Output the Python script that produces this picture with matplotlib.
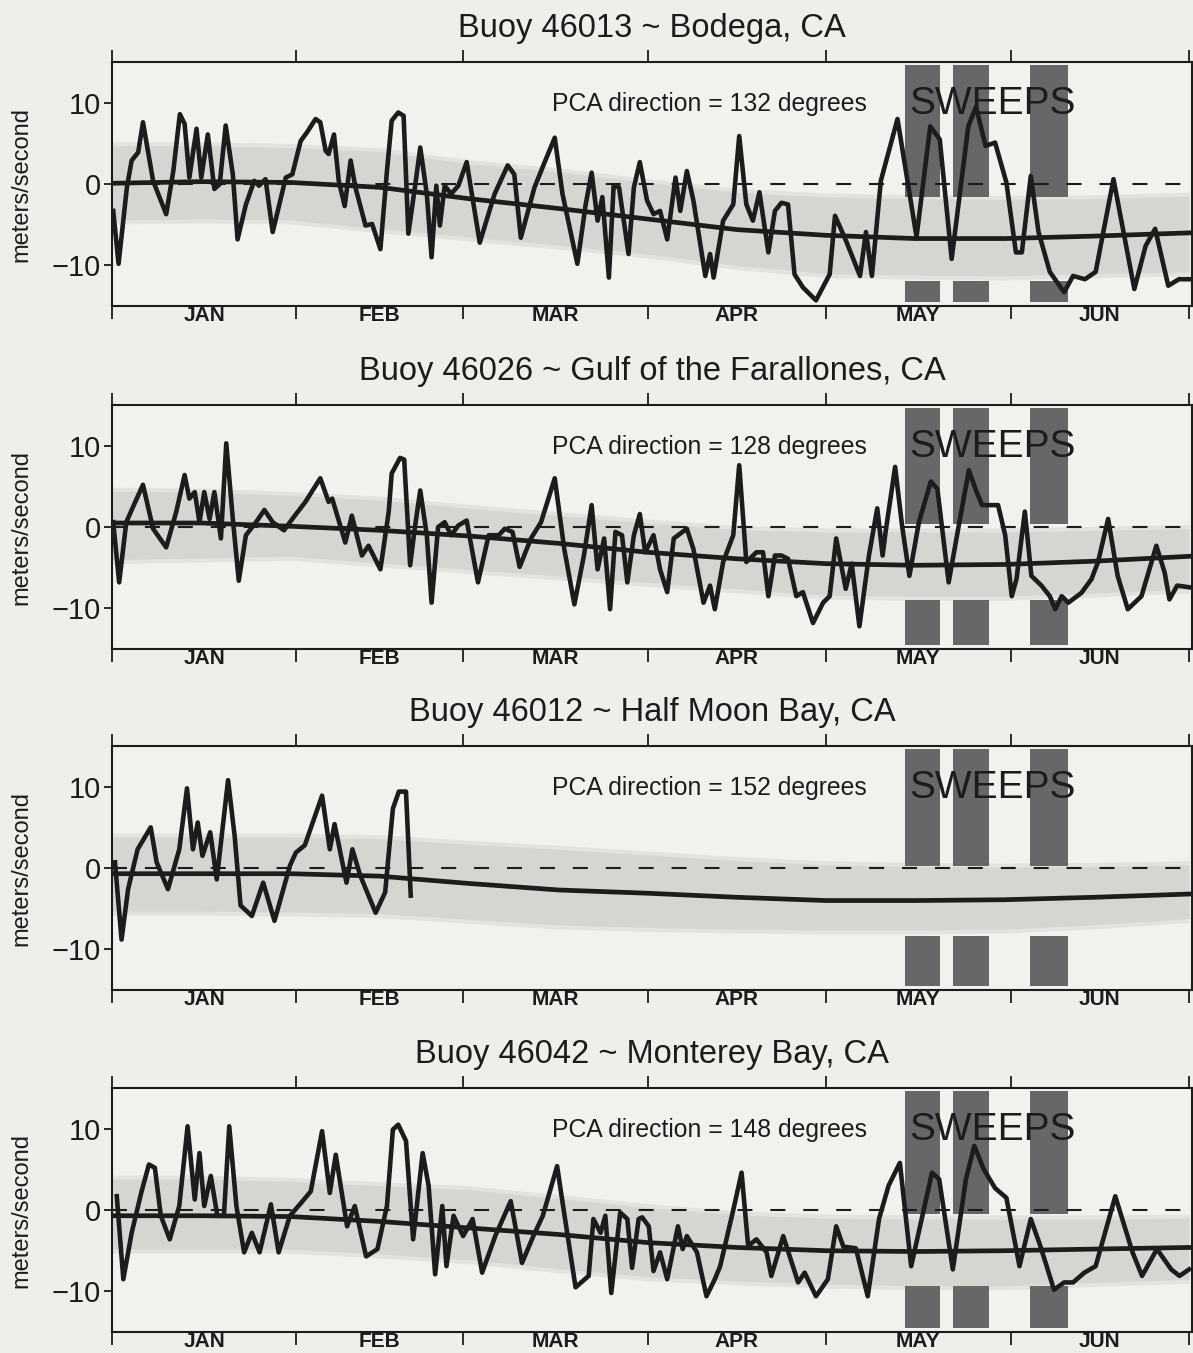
"""
Buoy wind records, Jan-Jun, four NDBC buoys off central California.

Along-shore wind (PCA direction) with the seasonal mean, its spread band
and the SWEEPS cruise periods.
"""
import matplotlib
matplotlib.use("agg")  # noqa: E402
import matplotlib.pyplot as plt

plt.rcParams['font.family'] = ['Liberation Sans', 'DejaVu Sans']

# ---- data (x = day of year, 0 = Jan 1) ----

TITLES = [
    "Buoy 46013 ~ Bodega, CA",
    "Buoy 46026 ~ Gulf of the Farallones, CA",
    "Buoy 46012 ~ Half Moon Bay, CA",
    "Buoy 46042 ~ Monterey Bay, CA",
]
PCA_DEGREES = [132, 128, 152, 148]

MONTHS = ["JAN", "FEB", "MAR", "APR", "MAY", "JUN"]
MONTH_EDGES = [0, 31, 59, 90, 120, 151, 181]

# SWEEPS periods (days)
SWEEP_START = [133.3, 141.3, 154.2]
SWEEP_END = [139.2, 147.4, 160.6]
# top block runs from SWEEP_TOP down to the per-panel value,
# bottom block from SWEEP_BOTTOM up to the per-panel value
SWEEP_TOP = 14.6
SWEEP_TOP_LOW = [-1.6, 0.4, 0.2, -0.5]
SWEEP_BOTTOM = -14.5
SWEEP_BOTTOM_HIGH = [-11.9, -9.0, -8.3, -9.4]

# seasonal mean and spread band
MEAN_DAYS = [0, 15, 30, 45, 60, 75, 90, 105, 120, 135, 150, 165, 181]
MEAN_46013 = [0.1, 0.3, 0.2, -0.4, -1.8, -3.0, -4.3, -5.6, -6.3, -6.7,
              -6.7, -6.4, -6.0]
UPPER_46013 = [4.7, 4.7, 4.5, 4.0, 2.5, 1.5, 0.2, -1.0, -1.6, -1.8, -1.9,
               -1.8, -1.5]
LOWER_46013 = [-4.4, -4.3, -4.4, -5.5, -6.5, -7.5, -8.6, -10.0, -11.0,
               -11.2, -11.3, -11.0, -10.8]

MEAN_46026 = [0.5, 0.5, 0.1, -0.4, -1.1, -2.0, -3.1, -3.9, -4.5, -4.7,
              -4.6, -4.2, -3.6]
UPPER_46026 = [4.4, 4.3, 3.9, 3.3, 2.3, 1.4, 0.5, -0.3, -0.6, -0.6, -0.6,
               -0.4, -0.2]
LOWER_46026 = [-4.0, -3.8, -3.6, -4.4, -5.2, -6.0, -6.8, -7.6, -8.4, -8.5,
               -8.5, -8.1, -7.6]

MEAN_46012 = [-0.7, -0.7, -0.7, -1.0, -1.9, -2.7, -3.1, -3.6, -4.0, -4.0,
              -3.9, -3.6, -3.2]
UPPER_46012 = [3.8, 3.8, 3.8, 3.6, 2.9, 2.3, 1.6, 0.9, 0.4, 0.2, 0.1,
               0.2, 0.4]
LOWER_46012 = [-5.3, -5.3, -5.4, -5.6, -6.3, -7.0, -7.3, -7.5, -7.6, -7.6,
               -7.5, -7.0, -6.2]

MEAN_46042 = [-0.7, -0.7, -0.8, -1.4, -2.2, -3.0, -4.0, -4.6, -5.0, -5.1,
              -5.0, -4.8, -4.6]
UPPER_46042 = [3.8, 3.8, 3.5, 3.0, 2.5, 1.4, 0.3, -0.6, -1.0, -1.1, -1.1,
               -1.1, -1.0]
LOWER_46042 = [-4.8, -4.8, -4.8, -5.4, -6.1, -7.2, -8.2, -8.7, -9.1, -9.3,
               -9.3, -8.9, -8.5]

# daily wind along the PCA direction (m/s)
DAYS_46013 = [
    0.2, 1.1, 2.5, 3.3, 4.4, 5.2, 6.9, 9.1, 10.3, 11.4, 12.2, 13.0, 14.2,
    15.0, 16.1, 17.2, 18.1, 19.1, 20.3, 21.1, 22.5, 23.9, 24.7, 25.8, 27.0,
    28.4, 29.2, 30.3, 31.7, 32.8, 34.2, 35.0, 35.9, 36.4, 37.3, 38.1, 39.1,
    40.1, 40.9, 42.6, 43.7, 45.1, 46.2, 47.0, 48.1, 49.0, 49.8, 50.9, 51.8,
    52.9, 53.7, 54.5, 55.1, 55.9, 57.0, 58.2, 59.6, 61.8, 64.3, 66.5, 67.6,
    68.7, 71.0, 72.6, 74.4, 75.7, 78.2, 79.6, 80.6, 81.6, 82.4, 83.5, 84.3,
    85.2, 86.0, 86.8, 87.7, 88.7, 89.9, 91.0, 92.1, 93.3, 94.7, 95.5, 96.6,
    97.7, 99.7, 100.5, 101.1, 102.7, 104.4, 105.4, 106.6, 107.7, 108.8,
    110.3, 111.4, 112.5, 113.6, 114.7, 116.1, 118.3, 120.6, 121.5, 123.2,
    125.7, 126.7, 127.7, 129.2, 132.0, 135.2, 137.5, 139.1, 141.1, 143.9,
    145.2, 146.8, 148.4, 150.3, 151.9, 152.9, 154.4, 155.7, 157.6, 160.0,
    161.5, 163.5, 165.3, 168.3, 171.8, 173.7, 175.3, 177.5, 179.3, 181.0,
]
WIND_46013 = [
    -3.3, -9.8, -0.4, 2.9, 3.9, 7.6, 0.4, -3.7, 1.6, 8.6, 7.4, 0.8, 6.8,
    0.8, 6.1, -0.6, 0.0, 7.2, 1.2, -6.8, -2.5, 0.4, -0.2, 0.6, -5.9,
    -1.6, 0.8, 1.2, 5.3, 6.4, 8.0, 7.6, 4.1, 3.7, 6.1, 0.4, -2.7,
    2.9, -0.4, -5.1, -4.9, -8.0, 1.6, 7.8, 8.8, 8.4, -6.1, -0.4, 4.5,
    -1.2, -9.0, -0.2, -5.1, -0.2, -1.2, -0.2, 2.7, -7.2, -1.2, 2.3, 1.2,
    -6.6, -0.4, 2.5, 5.7, -1.2, -9.8, -2.5, 1.4, -4.5, -1.6, -11.5, -0.2,
    -0.4, -4.5, -8.6, -0.4, 2.7, -2.0, -3.7, -3.3, -6.8, 0.8, -3.3, 1.6,
    -2.0, -11.3, -8.6, -11.5, -4.5, -2.5, 5.9, -2.5, -4.5, -1.0,
    -8.4, -3.3, -2.3, -2.5, -11.1, -12.7, -14.3, -11.1, -3.9, -6.7,
    -11.3, -5.9, -11.3, 0.4, 8.0, -6.5, 7.1, 5.5, -9.2, 7.1,
    9.5, 4.7, 5.1, 0.2, -8.4, -8.4, 1.0, -5.9, -10.8, -13.3,
    -11.3, -11.7, -10.8, 0.6, -12.9, -7.6, -5.5, -12.5, -11.7, -11.7,
]

DAYS_46026 = [
    0.2, 1.2, 2.4, 3.3, 5.2, 6.9, 9.1, 10.8, 12.2, 13.0, 13.9, 14.7, 15.5,
    16.4, 17.2, 18.3, 19.2, 20.3, 21.3, 22.5, 24.2, 25.6, 27.0, 28.9, 30.3,
    32.5, 35.0, 36.4, 37.0, 39.2, 40.3, 42.0, 43.1, 45.1, 46.5, 47.0, 48.4,
    49.1, 50.1, 50.9, 51.8, 52.9, 53.7, 54.8, 55.9, 57.0, 58.2, 59.6, 61.5,
    63.3, 65.0, 66.0, 67.3, 68.5, 70.4, 72.1, 74.4, 76.0, 77.7, 79.3, 80.6,
    81.6, 82.7, 83.7, 84.6, 85.7, 86.6, 87.7, 88.7, 89.6, 91.0, 92.1, 93.3,
    94.4, 95.5, 96.6, 97.7, 99.4, 100.5, 101.3, 102.7, 104.4, 105.4, 106.6,
    108.3, 109.4, 110.3, 111.4, 112.5, 113.6, 115.0, 116.1, 117.8, 119.5,
    120.6, 121.7, 123.3, 124.3, 125.6, 127.2, 128.6, 129.5, 130.0, 131.6,
    132.8, 134.0, 135.6, 137.6, 138.7, 140.6, 142.3, 144.0, 145.1, 146.2,
    148.9, 150.1, 151.2, 152.0, 153.4, 154.5, 156.2, 157.6, 158.5, 159.6,
    160.7, 162.9, 164.6, 165.7, 167.4, 169.0, 170.7, 173.0, 175.5, 176.9,
    177.7, 179.0, 181.0,
]
WIND_46026 = [
    0.6, -6.8, 0.6, 2.1, 5.2, -0.2, -2.5, 1.9, 6.4, 3.5, 4.3, 0.6, 4.3,
    1.0, 4.3, -1.4, 10.3, 1.0, -6.6, -1.0, 0.6, 2.1, 0.6, -0.4, 1.0,
    3.1, 6.0, 3.1, 3.5, -1.9, 1.4, -3.5, -2.3, -5.2, 1.9, 6.6, 8.5,
    8.3, -4.7, 0.0, 4.5, -1.0, -9.3, 0.0, 0.6, -1.0, 0.2, 0.8, -6.8,
    -1.0, -1.0, -0.2, -0.6, -4.9, -1.4, 0.6, 6.0, -2.7, -9.5, -3.5, 2.7,
    -5.2, -1.4, -10.1, -0.6, -1.0, -6.8, -1.0, 1.6, -3.1, -1.0, -5.2, -8.0,
    -1.4, -0.8, -0.2, -2.7, -9.3, -7.2, -10.1, -4.3, -1.0, 7.6, -4.3,
    -3.1, -3.1, -8.5, -3.5, -3.5, -3.9, -8.5, -8.0, -11.8, -9.3,
    -8.5, -1.4, -7.6, -4.5, -12.2, -3.5, 2.3, -3.5, -0.6, 7.4,
    0.0, -6.0, 0.6, 5.6, 4.7, -6.8, 0.2, 7.0, 4.7, 2.7,
    2.7, -1.0, -8.5, -6.4, 1.9, -6.0, -7.2, -8.5, -10.1, -8.5,
    -9.3, -8.1, -6.4, -4.3, 1.0, -6.0, -10.1, -8.5, -2.3, -5.6,
    -8.9, -7.2, -7.4,
]

# the Half Moon Bay record stops in late February
DAYS_46012 = [
    0.5, 1.6, 2.7, 4.3, 6.5, 7.5, 9.4, 11.3, 12.6, 13.6, 14.4, 15.2, 16.5,
    17.6, 19.5, 20.6, 21.6, 23.5, 25.4, 27.3, 29.9, 30.9, 32.4, 35.3, 36.6,
    37.4, 39.4, 40.4, 41.7, 44.3, 45.9, 47.2, 48.2, 49.4, 50.2,
]
WIND_46012 = [
    0.7, -8.8, -2.6, 2.3, 5.0, 0.7, -2.6, 2.3, 9.8, 2.3, 5.6, 1.5, 4.4,
    -1.4, 10.8, 4.0, -4.6, -5.9, -1.8, -6.5, 0.3, 1.9, 2.8, 8.9, 2.3,
    5.4, -1.8, 2.3, -0.9, -5.5, -3.0, 7.3, 9.4, 9.4, -3.4,
]

DAYS_46042 = [
    0.8, 1.9, 3.3, 4.9, 6.2, 7.2, 8.2, 9.7, 11.3, 12.7, 13.9, 14.7, 15.5,
    16.6, 17.7, 18.8, 19.7, 20.9, 22.2, 23.5, 24.8, 26.7, 28.0, 29.9, 31.8,
    33.4, 35.3, 36.6, 37.6, 39.5, 40.8, 42.7, 44.6, 46.2, 47.2, 48.1, 49.4,
    50.6, 52.2, 53.2, 54.3, 55.5, 56.2, 57.4, 59.0, 60.6, 62.2, 64.4, 67.0,
    68.9, 70.8, 72.4, 74.8, 75.8, 77.9, 80.1, 80.9, 82.1, 82.9, 83.9, 85.4,
    86.6, 87.4, 88.5, 89.1, 90.2, 91.0, 92.1, 93.3, 95.1, 95.9, 96.6, 98.3,
    99.9, 101.3, 102.2, 104.4, 105.8, 106.9, 108.3, 110.0, 110.8, 112.8,
    114.2, 115.3, 116.4, 118.3, 120.3, 121.7, 122.9, 125.0, 127.0, 128.9,
    130.5, 132.4, 134.3, 137.8, 139.0, 141.3, 143.5, 144.9, 146.5, 148.4,
    150.3, 152.5, 154.4, 156.0, 158.3, 160.0, 161.5, 163.4, 165.3, 168.6,
    171.5, 173.1, 175.6, 178.0, 179.4, 181.0,
]
WIND_46042 = [
    1.7, -8.5, -2.8, 2.1, 5.6, 5.2, -0.7, -3.6, 0.5, 10.3, 1.3, 7.0, 0.5,
    4.2, -0.7, -0.7, 10.3, 0.5, -5.2, -2.8, -5.2, 0.7, -5.2, -0.7, 0.9,
    2.3, 9.7, 2.1, 6.8, -2.0, 0.5, -5.7, -4.8, 0.5, 9.9, 10.5, 8.5,
    -3.6, 7.0, 3.0, -7.9, 0.5, -6.9, -0.7, -3.2, -1.1, -7.7, -3.2, 1.1,
    -6.5, -3.2, -0.7, 5.4, 0.5, -9.5, -8.1, -1.1, -2.8, -0.7, -10.2, -0.3,
    -1.1, -7.1, -1.1, -0.9, -2.0, -7.5, -5.2, -8.5, -2.0, -4.8, -3.2, -5.2,
    -10.6, -8.5, -6.9, 0.0, 4.6, -4.4, -3.6, -5.2, -8.1, -3.2,
    -6.4, -8.9, -7.7, -10.6, -8.5, -2.0, -4.5, -4.7, -10.6, -1.1,
    3.0, 5.8, -6.9, 4.6, 3.8, -7.3, 3.8, 7.9, 5.0, 2.7,
    1.5, -6.9, -1.1, -4.4, -9.8, -8.9, -8.9, -7.7, -6.9, 1.7,
    -5.2, -8.1, -4.8, -7.3, -8.1, -7.3,
]

PANELS = [
    (DAYS_46013, WIND_46013, MEAN_46013, UPPER_46013, LOWER_46013),
    (DAYS_46026, WIND_46026, MEAN_46026, UPPER_46026, LOWER_46026),
    (DAYS_46012, WIND_46012, MEAN_46012, UPPER_46012, LOWER_46012),
    (DAYS_46042, WIND_46042, MEAN_46042, UPPER_46042, LOWER_46042),
]

# ---- layout (figure fractions) ----
PAGE_COLOR = '#eeeeea'
INK = '#1c1c1c'
AX_LEFT, AX_WIDTH, AX_HEIGHT = 0.0939, 0.9053, 0.1803
PANEL_BOTTOMS = [0.7738, 0.5203, 0.2683, 0.0155]


def draw_panel(ax, idx):
    days, wind, mean, upper, lower = PANELS[idx]

    ax.set_facecolor('#f1f1ed')
    ax.set_xlim(0, 181.5)
    ax.set_ylim(-15, 15)

    # spread band around the seasonal mean
    ax.fill_between(MEAN_DAYS, [u + 0.5 for u in upper],
                    [lo - 0.5 for lo in lower],
                    color='#e2e2df', lw=0, zorder=1)
    ax.fill_between(MEAN_DAYS, upper, lower, color='#d5d5d2', lw=0,
                    zorder=1)

    # SWEEPS periods
    widths = [e - s for s, e in zip(SWEEP_START, SWEEP_END)]
    ax.bar(SWEEP_START, SWEEP_TOP - SWEEP_TOP_LOW[idx], width=widths,
           bottom=SWEEP_TOP_LOW[idx], align='edge', color='#676767',
           lw=0, zorder=2)
    ax.bar(SWEEP_START, SWEEP_BOTTOM_HIGH[idx] - SWEEP_BOTTOM, width=widths,
           bottom=SWEEP_BOTTOM, align='edge', color='#676767', lw=0,
           zorder=2)

    ax.axhline(0, color=INK, lw=1.5, ls=(0, (7.2, 8.6)), zorder=3)
    ax.plot(MEAN_DAYS, mean, color=INK, lw=3.4, zorder=4)
    ax.plot(days, wind, color=INK, lw=3.3, zorder=5)

    ax.text(74.0, 9.9, f"PCA direction = {PCA_DEGREES[idx]} degrees",
            ha='left', va='center', fontsize=17.8, color=INK, zorder=6)
    ax.text(148.0, 9.9, "SWEEPS", ha='center', va='center', fontsize=28,
            color=INK, zorder=6)

    # titles and labels
    ax.text(0.5, 1.104, TITLES[idx], transform=ax.transAxes, ha='center',
            va='baseline', fontsize=23.5, color=INK)
    ax.text(-0.0843, 0.5, "meters/second", transform=ax.transAxes,
            rotation=90, ha='center', va='center', fontsize=17, color=INK)

    # month boundaries as ticks, month names between them
    ax.set_xticks(MONTH_EDGES)
    ax.set_xticklabels([])
    mids = [(a + b) / 2 for a, b in zip(MONTH_EDGES[:-1], MONTH_EDGES[1:])]
    ax.set_xticks(mids, minor=True)
    ax.set_xticklabels(MONTHS, minor=True, fontsize=15, fontweight='bold')
    ax.tick_params(axis='x', which='major', direction='out', length=9,
                   width=1.3, top=True, bottom=True, color=INK)
    ax.tick_params(axis='x', which='minor', length=0, pad=0,
                   labelcolor=INK)

    ax.set_yticks([-10, 0, 10])
    ax.set_yticklabels(['\u221210', '0', '10'], fontsize=21)
    ax.tick_params(axis='y', direction='out', length=6, width=1.3,
                   pad=2, color=INK, labelcolor=INK)

    for spine in ax.spines.values():
        spine.set_linewidth(1.5)
        spine.set_color(INK)
        spine.set_zorder(7)


def main():
    fig = plt.figure(figsize=(11.93, 13.53), dpi=100)
    fig.patch.set_facecolor(PAGE_COLOR)
    for idx, bottom in enumerate(PANEL_BOTTOMS):
        ax = fig.add_axes([AX_LEFT, bottom, AX_WIDTH, AX_HEIGHT])
        draw_panel(ax, idx)
    fig.savefig('out.png', dpi=100, facecolor=PAGE_COLOR)


if __name__ == '__main__':
    main()
